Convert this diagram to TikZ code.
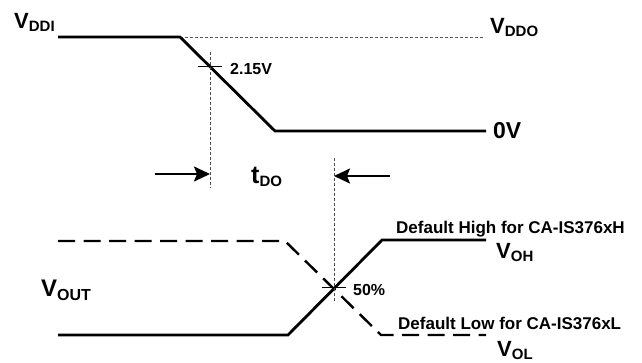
\documentclass[tikz,border=0pt]{standalone}
\usepackage{fontspec}
\setmainfont{Liberation Sans}
\usetikzlibrary{arrows.meta}
\tikzset{
  wave/.style={line width=2.8pt, line join=miter},
  dwave/.style={line width=2.4pt, dash pattern=on 17pt off 8.5pt},
  guide/.style={line width=0.8pt, gray!70!black, dash pattern=on 3pt off 2pt},
  vguide/.style={line width=0.8pt, black!70, dash pattern=on 3pt off 2pt},
  tick/.style={line width=0.9pt},
  lbl/.style={inner sep=0pt, anchor=base west, font=\bfseries},
  timearrow/.style={line width=2pt, -{Stealth[length=16pt,width=15pt,inset=3pt]}},
}
\newcommand{\sig}[2]{{\fontsize{22}{22}\selectfont #1}\raisebox{-3.5pt}{\fontsize{15}{15}\selectfont #2}}
\begin{document}
\begin{tikzpicture}[x=1pt,y=-1pt]
\useasboundingbox (0,0) rectangle (642,362);
% top waveform
\coordinate (a0) at (58,37);
\coordinate (a1) at (180,37);
\coordinate (a2) at (275,131);
\coordinate (a3) at (486,131);
\coordinate (g1) at (485,37);
\draw[guide] (a1) -- (g1);
\draw[wave] (a0) -- (a1) -- (a2) -- (a3);
% crossing 2.15V
\coordinate (c1) at (210,66.7);
\coordinate (v1t) at (210,52);
\coordinate (v1b) at (210,188);
\draw[vguide] (v1t) -- (v1b);
\draw[tick] ([xshift=-12pt]c1) -- ([xshift=12pt]c1);
% bottom waveform
\coordinate (b0) at (58,335);
\coordinate (b1) at (288,335);
\coordinate (b2) at (382,240);
\coordinate (b3) at (486,240);
\coordinate (d0) at (58,241);
\coordinate (d1) at (285,241);
\coordinate (d2) at (381,335);
\coordinate (d3) at (486,335);
\draw[dwave] (d0) -- (d1) -- (d2) -- (d3);
\draw[wave] (b0) -- (b1) -- (b2) -- (b3);
\coordinate (c2) at (334,287.5);
\coordinate (v2t) at (334,158);
\coordinate (v2b) at (334,303);
\draw[vguide] (v2t) -- (v2b);
\draw[tick] ([xshift=-12pt]c2) -- ([xshift=12pt]c2);
% time arrows
\coordinate (l0) at (155,174);
\coordinate (l1) at (210,174);
\coordinate (r0) at (390,176);
\coordinate (r1) at (334,176);
\draw[timearrow] (l0) -- (l1);
\draw[timearrow] (r0) -- (r1);
% labels
\node[lbl] (vddi) at (14,28) {\sig{V}{DDI}};
\node[lbl] (vddo) at (490,33) {\sig{V}{DDO}};
\node[lbl, font=\bfseries\fontsize{23}{23}\selectfont] (zero) at (493,138) {0V};
\node[lbl, font=\bfseries\fontsize{16}{16}\selectfont] (v215) at (230,74) {2.15V};
\node[lbl] (tdo) at (251,183) {{\fontsize{25}{25}\selectfont t}\raisebox{-3.5pt}{\fontsize{15}{15}\selectfont DO}};
\node[lbl] (vout) at (41,296) {{\fontsize{24}{24}\selectfont V}\raisebox{-4pt}{\fontsize{16}{16}\selectfont OUT}};
\node[lbl, font=\bfseries\fontsize{16}{16}\selectfont] (pct) at (353,295) {50\%};
\node[lbl, font=\bfseries\fontsize{17}{17}\selectfont] (dh) at (396,233) {Default High for CA-IS376xH};
\node[lbl] (voh) at (496,258) {\sig{V}{OH}};
\node[lbl, font=\bfseries\fontsize{17}{17}\selectfont] (dl) at (398,329) {Default Low for CA-IS376xL};
\node[lbl] (vol) at (497,356) {\sig{V}{OL}};
\end{tikzpicture}
\end{document}
